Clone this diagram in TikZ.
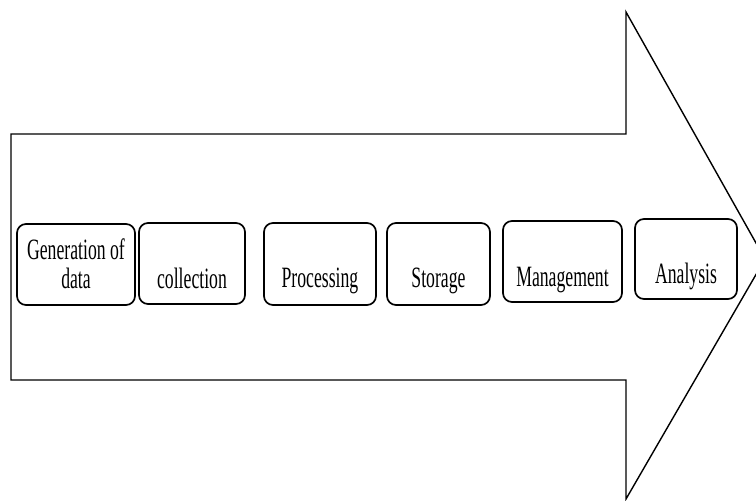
\documentclass[tikz,border=0pt]{standalone}
\usepackage{fontspec}
\setmainfont{Liberation Serif}[FakeStretch=0.6]
\begin{document}
\begin{tikzpicture}[x=1pt,y=-1pt,
  stagebox/.style={draw=black, line width=1.7pt, rounded corners=9pt, fill=white, inner sep=0pt},
  lbl/.style={anchor=base, inner sep=0pt, font=\fontsize{29.5}{30}\selectfont},
  bigarrow/.style={draw=black, line width=1.4pt, fill=white, line join=miter}]
\clip (0,0) rectangle (756,501);
\useasboundingbox (0,0) rectangle (756,501);
% big arrow
\coordinate (a1) at (11,134);
\coordinate (a2) at (626,134);
\coordinate (a3) at (626,12);
\coordinate (a4) at (765,259);
\coordinate (a5) at (626,499);
\coordinate (a6) at (626,380);
\coordinate (a7) at (11,380);
\draw[bigarrow] (a1) -- (a2) -- (a3) -- (a4) -- (a5) -- (a6) -- (a7) -- cycle;
% boxes
\node[stagebox, minimum width=118pt, minimum height=81pt] (b1) at (76,264.5) {};
\node[stagebox, minimum width=106pt, minimum height=81pt] (b2) at (192,263.5) {};
\node[stagebox, minimum width=112pt, minimum height=82pt] (b3) at (320,264) {};
\node[stagebox, minimum width=103pt, minimum height=82pt] (b4) at (438.5,264) {};
\node[stagebox, minimum width=119pt, minimum height=81pt] (b5) at (562.5,261.5) {};
\node[stagebox, minimum width=102pt, minimum height=80pt] (b6) at (686,259) {};
% labels
\node[lbl] (t1a) at (76,259) {Generation of};
\node[lbl] (t1b) at (76,288) {data};
\node[lbl] (t2) at (192,288) {collection};
\node[lbl] (t3) at (320,287) {Processing};
\node[lbl] (t4) at (438.5,287) {Storage};
\node[lbl] (t5) at (562.5,286) {Management};
\node[lbl] (t6) at (686,283) {Analysis};
\end{tikzpicture}
\end{document}
